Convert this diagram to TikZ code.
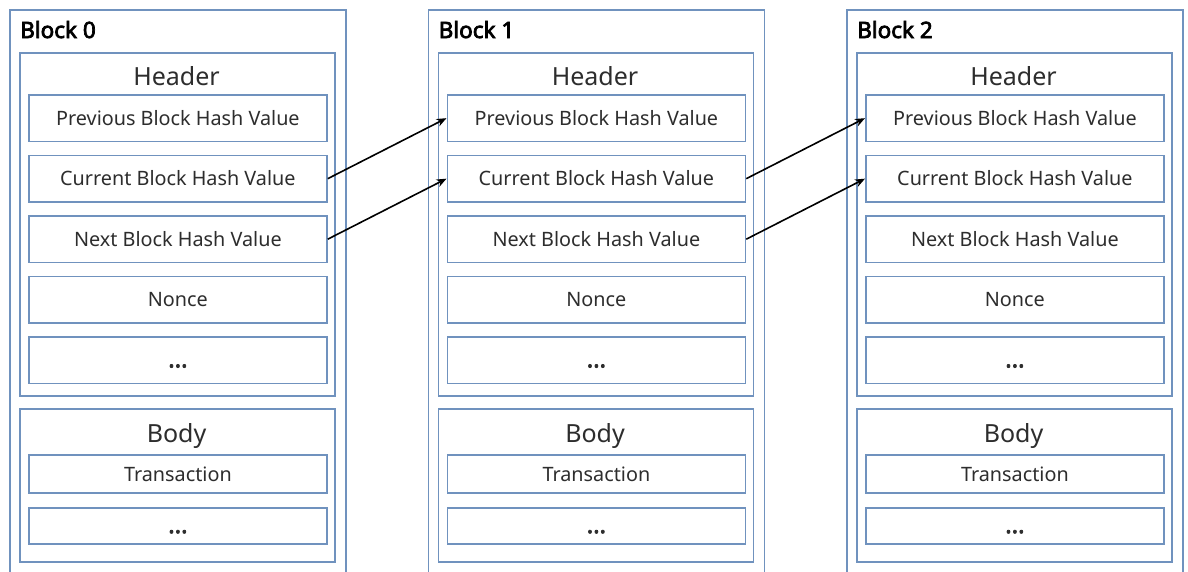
\documentclass[tikz,border=0pt]{standalone}
\usepackage{fontspec}
\setmainfont{Noto Sans}
\newfontfamily\heavyfont{Noto Sans}[FakeBold=3.2]
\usetikzlibrary{arrows.meta}
\definecolor{frame}{RGB}{112,146,190}
\definecolor{ink}{RGB}{45,45,45}
\tikzset{
  panel/.style={draw=frame, line width=1.8pt, fill=white, anchor=north west, inner sep=0pt},
  field/.style={panel, minimum width=298pt, text=ink,
    text height=14.3pt, text depth=0pt, font=\fontsize{19.8}{22}\selectfont},
  dotsfield/.style={field, font=\fontsize{24}{26}\selectfont\heavyfont},
  blocktitle/.style={anchor=base west, inner sep=0pt, text=black,
    font=\fontsize{22.5}{25}\selectfont\heavyfont},
  parttitle/.style={anchor=base, inner sep=0pt, text=ink,
    font=\fontsize{25}{28}\selectfont},
  link/.style={-{Stealth[length=10pt,width=8pt]}, line width=1.6pt, black},
}
\begin{document}
\begin{tikzpicture}[x=1pt,y=-1pt]
  \clip (0,0) rectangle (1188,571);
  \fill[white] (0,0) rectangle (1188,571);
  \foreach \i/\dx in {0/0,1/418.5,2/837}{
    \begin{scope}[xshift=\dx pt]
      % outer block frame, running off the bottom edge
      \node[panel, minimum width=336pt, minimum height=640pt] (blk\i) at (9,9) {};
      \node[blocktitle] (title\i) at (20,38) {Block \i};
      % header section
      \node[panel, minimum width=315pt, minimum height=343pt] (hdr\i) at (19,52) {};
      \node[parttitle] (hdrlbl\i) at (176.5,85) {Header};
      \node[field, minimum height=46.5pt] (prev\i) at (28,94) {Previous Block Hash Value};
      \node[field, minimum height=46.5pt] (cur\i) at (28,154.5) {Current Block Hash Value};
      \node[field, minimum height=46.5pt] (next\i) at (28,215) {Next Block Hash Value};
      \node[field, minimum height=46.5pt] (nonce\i) at (28,275.5) {Nonce};
      \node[dotsfield, minimum height=46.5pt] (hmore\i) at (28,336) {...};
      % body section
      \node[panel, minimum width=315pt, minimum height=153pt] (body\i) at (19,408) {};
      \node[parttitle] (bodylbl\i) at (176.5,442) {Body};
      \node[field, minimum height=38pt] (tx\i) at (28,454) {Transaction};
      \node[dotsfield, minimum height=36pt] (bmore\i) at (28,507) {...};
    \end{scope}
  }
  % hash links between consecutive blocks
  \draw[link] (cur0.east) -- (prev1.west);
  \draw[link] (next0.east) -- (cur1.west);
  \draw[link] (cur1.east) -- (prev2.west);
  \draw[link] (next1.east) -- (cur2.west);
\end{tikzpicture}
\end{document}
